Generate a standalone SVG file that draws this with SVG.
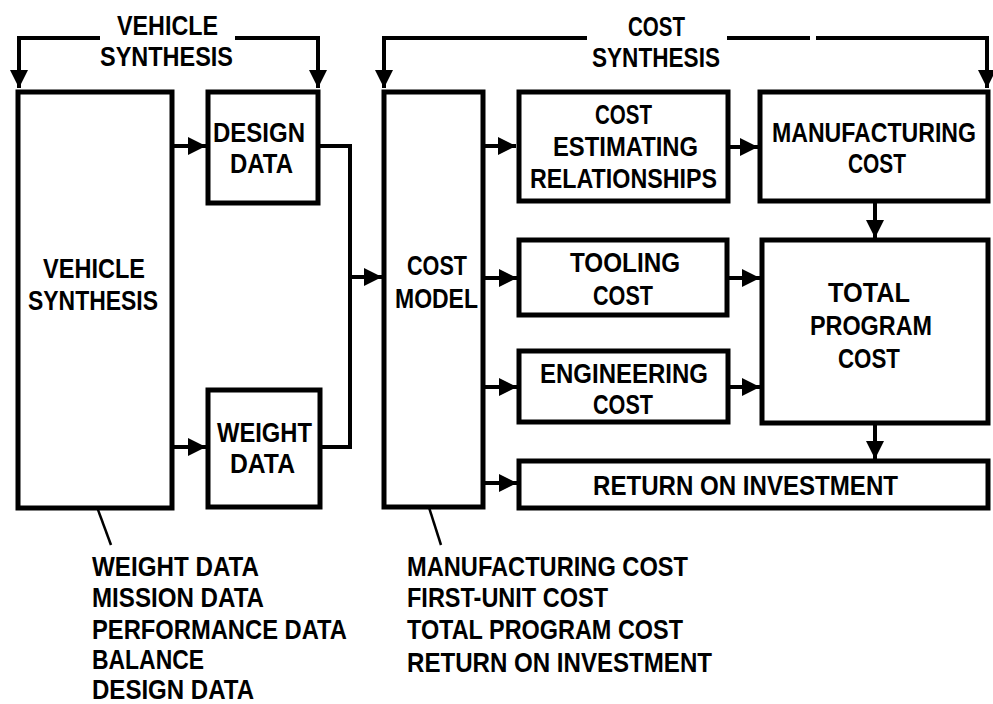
<svg xmlns="http://www.w3.org/2000/svg" width="993" height="704" viewBox="0 0 993 704">
  <style>
    .box { fill: #fff; stroke: #000; stroke-width: 5; }
    .ln { fill: none; stroke: #000; stroke-width: 4; }
    .arr { fill: none; stroke: #000; stroke-width: 4; marker-end: url(#head); }
    .lead { fill: none; stroke: #000; stroke-width: 2.5; }
    text { font-family: "Liberation Sans", Arial, sans-serif; font-weight: bold; font-size: 27px; fill: #000; }
    .big { font-size: 28px; }
  </style>
  <defs>
    <marker id="head" viewBox="0 0 18 18" markerWidth="18" markerHeight="18" refX="18" refY="9" orient="auto" markerUnits="userSpaceOnUse">
      <path d="M0,0 L18,9 L0,18 z" fill="#000"/>
    </marker>
  </defs>
  <rect width="993" height="704" fill="#fff"/>

  <!-- connectors -->
  <g id="connectors">
    <!-- vehicle synthesis loop -->
    <path class="arr" d="M100,38 H19 V88"/>
    <path class="arr" d="M235,38 H318 V88"/>
    <!-- cost synthesis loop -->
    <path class="arr" d="M587,38 H384 V88"/>
    <path class="ln" d="M727,38 H810"/>
    <path class="arr" d="M816,38 H987 V88"/>
    <!-- vehicle synthesis outputs -->
    <path class="arr" d="M172,146 H206"/>
    <path class="arr" d="M172,447 H206"/>
    <!-- design/weight data merge into cost model -->
    <path class="ln" d="M318,146 H350 V447 H320"/>
    <path class="arr" d="M350,277 H382"/>
    <!-- cost model outputs -->
    <path class="arr" d="M483,146 H516"/>
    <path class="arr" d="M483,278 H517"/>
    <path class="arr" d="M483,387 H517"/>
    <path class="arr" d="M483,483 H517"/>
    <!-- into manufacturing / total program cost -->
    <path class="arr" d="M728,147 H758"/>
    <path class="arr" d="M727,278 H760"/>
    <path class="arr" d="M728,387 H760"/>
    <path class="arr" d="M875,202 V238"/>
    <path class="arr" d="M875,423 V459"/>
    <!-- leaders to output lists -->
    <path class="lead" d="M87,480 L111,545"/>
    <path class="lead" d="M418,473 L441,545"/>
  </g>

  <!-- loop labels -->
  <g id="label-vehicle-loop">
    <text x="117" y="35" textLength="101" lengthAdjust="spacingAndGlyphs">VEHICLE</text>
    <text x="100" y="66" textLength="133" lengthAdjust="spacingAndGlyphs">SYNTHESIS</text>
  </g>
  <g id="label-cost-loop">
    <text x="628" y="36" textLength="57" lengthAdjust="spacingAndGlyphs">COST</text>
    <text x="592" y="67" textLength="128" lengthAdjust="spacingAndGlyphs">SYNTHESIS</text>
  </g>

  <g id="vehicle-synthesis">
    <rect class="box" x="18" y="92" width="154" height="416"/>
    <text x="43" y="278" textLength="102" lengthAdjust="spacingAndGlyphs">VEHICLE</text>
    <text x="28" y="310" textLength="130" lengthAdjust="spacingAndGlyphs">SYNTHESIS</text>
  </g>

  <g id="design-data">
    <rect class="box" x="208" y="92" width="110" height="111"/>
    <text x="213" y="142" textLength="92" lengthAdjust="spacingAndGlyphs">DESIGN</text>
    <text x="230" y="173" textLength="63" lengthAdjust="spacingAndGlyphs">DATA</text>
  </g>

  <g id="weight-data">
    <rect class="box" x="208" y="390" width="112" height="117"/>
    <text x="217" y="442" textLength="95" lengthAdjust="spacingAndGlyphs">WEIGHT</text>
    <text x="230" y="473" textLength="65" lengthAdjust="spacingAndGlyphs">DATA</text>
  </g>

  <g id="cost-model">
    <rect class="box" x="384" y="92" width="99" height="415"/>
    <text x="407" y="275" textLength="60" lengthAdjust="spacingAndGlyphs">COST</text>
    <text x="395" y="308" textLength="83" lengthAdjust="spacingAndGlyphs">MODEL</text>
  </g>

  <g id="cost-estimating-relationships">
    <rect class="box" x="519" y="92" width="209" height="109"/>
    <text x="595" y="124" textLength="57" lengthAdjust="spacingAndGlyphs">COST</text>
    <text x="553" y="156" textLength="145" lengthAdjust="spacingAndGlyphs">ESTIMATING</text>
    <text x="530" y="188" textLength="187" lengthAdjust="spacingAndGlyphs">RELATIONSHIPS</text>
  </g>

  <g id="manufacturing-cost">
    <rect class="box" x="760" y="92" width="228" height="109"/>
    <text x="772" y="142" textLength="204" lengthAdjust="spacingAndGlyphs">MANUFACTURING</text>
    <text x="848" y="173" textLength="58" lengthAdjust="spacingAndGlyphs">COST</text>
  </g>

  <g id="tooling-cost">
    <rect class="box" x="519" y="240" width="208" height="75"/>
    <text x="570" y="272" textLength="110" lengthAdjust="spacingAndGlyphs">TOOLING</text>
    <text x="593" y="305" textLength="60" lengthAdjust="spacingAndGlyphs">COST</text>
  </g>

  <g id="engineering-cost">
    <rect class="box" x="519" y="351" width="209" height="71"/>
    <text x="540" y="383" textLength="168" lengthAdjust="spacingAndGlyphs">ENGINEERING</text>
    <text x="593" y="414" textLength="60" lengthAdjust="spacingAndGlyphs">COST</text>
  </g>

  <g id="total-program-cost">
    <rect class="box" x="762" y="240" width="226" height="183"/>
    <text x="828" y="302" textLength="82" lengthAdjust="spacingAndGlyphs">TOTAL</text>
    <text x="810" y="335" textLength="122" lengthAdjust="spacingAndGlyphs">PROGRAM</text>
    <text x="838" y="368" textLength="62" lengthAdjust="spacingAndGlyphs">COST</text>
  </g>

  <g id="return-on-investment">
    <rect class="box" x="519" y="461" width="469" height="47"/>
    <text x="593" y="495" textLength="305" lengthAdjust="spacingAndGlyphs">RETURN ON INVESTMENT</text>
  </g>

  <!-- output lists -->
  <g id="vehicle-outputs">
    <text class="big" x="92" y="576" textLength="167" lengthAdjust="spacingAndGlyphs">WEIGHT DATA</text>
    <text class="big" x="92" y="607" textLength="172" lengthAdjust="spacingAndGlyphs">MISSION DATA</text>
    <text class="big" x="92" y="639" textLength="255" lengthAdjust="spacingAndGlyphs">PERFORMANCE DATA</text>
    <text class="big" x="92" y="669" textLength="112" lengthAdjust="spacingAndGlyphs">BALANCE</text>
    <text class="big" x="92" y="699" textLength="162" lengthAdjust="spacingAndGlyphs">DESIGN DATA</text>
  </g>
  <g id="cost-outputs">
    <text class="big" x="407" y="576" textLength="281" lengthAdjust="spacingAndGlyphs">MANUFACTURING COST</text>
    <text class="big" x="407" y="607" textLength="201" lengthAdjust="spacingAndGlyphs">FIRST-UNIT COST</text>
    <text class="big" x="407" y="639" textLength="276" lengthAdjust="spacingAndGlyphs">TOTAL PROGRAM COST</text>
    <text class="big" x="407" y="672" textLength="305" lengthAdjust="spacingAndGlyphs">RETURN ON INVESTMENT</text>
  </g>
</svg>
